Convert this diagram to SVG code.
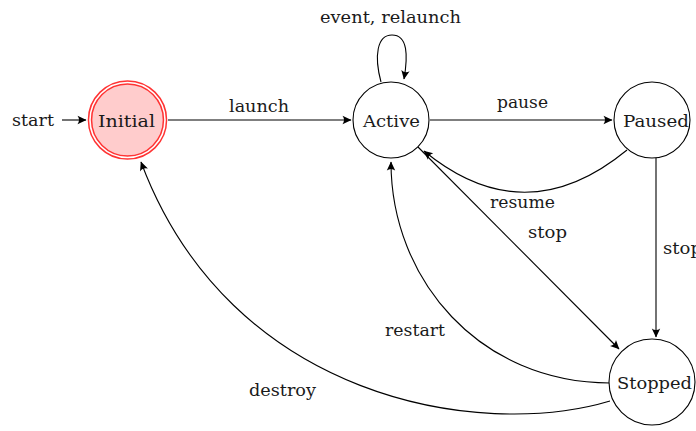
<svg xmlns="http://www.w3.org/2000/svg" width="696" height="431" viewBox="0 0 696 431">
<style>
  text { font-family: "DejaVu Serif", "Liberation Serif", serif; font-size: 17.5px; fill: #1a1a1a; }
  .state { fill: #fff; stroke: #000; stroke-width: 1.1; }
  .edge { fill: none; stroke: #000; stroke-width: 1.1; marker-end: url(#arr); }
</style>
<defs>
  <marker id="arr" markerUnits="userSpaceOnUse" markerWidth="14" markerHeight="12" viewBox="-10 -6 12 12" refX="0" refY="0" orient="auto">
    <path d="M0.5,0 L-8.5,-4.2 Q-5.5,0 -8.5,4.2 Z" fill="#000"/>
  </marker>
</defs>
<rect width="696" height="431" fill="#fff"/>

<g id="connectors">
  <path class="edge" d="M62,120 L86,120"/>
  <path class="edge" d="M168,120 L351,120"/>
  <path class="edge" d="M430,120 L612,120"/>
  <path class="edge" d="M381,82 C374,56 377,35 392,35 C408,35 408,56 404,79"/>
  <path class="edge" d="M627,150 Q525,234 424,151"/>
  <path class="edge" d="M418,147 L619,349"/>
  <path class="edge" d="M656,158 L656,337"/>
  <path class="edge" d="M610,383 C480,383 391,280 391,162"/>
  <path class="edge" d="M610,401 C480,440 230,400 141,162"/>
</g>

<g id="labels">
  <text x="12" y="126" textLength="42" lengthAdjust="spacingAndGlyphs">start</text>
  <text x="229" y="112" textLength="60" lengthAdjust="spacingAndGlyphs">launch</text>
  <text x="497" y="108" textLength="51" lengthAdjust="spacingAndGlyphs">pause</text>
  <text x="320" y="23" textLength="141" lengthAdjust="spacingAndGlyphs">event, relaunch</text>
  <text x="490" y="208" textLength="65" lengthAdjust="spacingAndGlyphs">resume</text>
  <text x="528" y="238" textLength="39" lengthAdjust="spacingAndGlyphs">stop</text>
  <text x="663" y="254" textLength="39" lengthAdjust="spacingAndGlyphs">stop</text>
  <text x="385" y="336" textLength="60" lengthAdjust="spacingAndGlyphs">restart</text>
  <text x="249" y="396" textLength="67" lengthAdjust="spacingAndGlyphs">destroy</text>
</g>

<g id="Initial">
  <circle cx="127.5" cy="120" r="37.5" fill="#ffcccc" stroke="#ff3333" stroke-width="4.6"/>
  <circle cx="127.5" cy="120" r="37.5" fill="none" stroke="#fff" stroke-width="1.6"/>
  <text x="98" y="127" textLength="57" lengthAdjust="spacingAndGlyphs">Initial</text>
</g>
<g id="Active">
  <circle class="state" cx="391" cy="120" r="38"/>
  <text x="363" y="127" textLength="57" lengthAdjust="spacingAndGlyphs">Active</text>
</g>
<g id="Paused">
  <circle class="state" cx="652" cy="120" r="38"/>
  <text x="623" y="127" textLength="66" lengthAdjust="spacingAndGlyphs">Paused</text>
</g>
<g id="Stopped">
  <circle class="state" cx="652" cy="382" r="43"/>
  <text x="617" y="389" textLength="75" lengthAdjust="spacingAndGlyphs">Stopped</text>
</g>
</svg>
